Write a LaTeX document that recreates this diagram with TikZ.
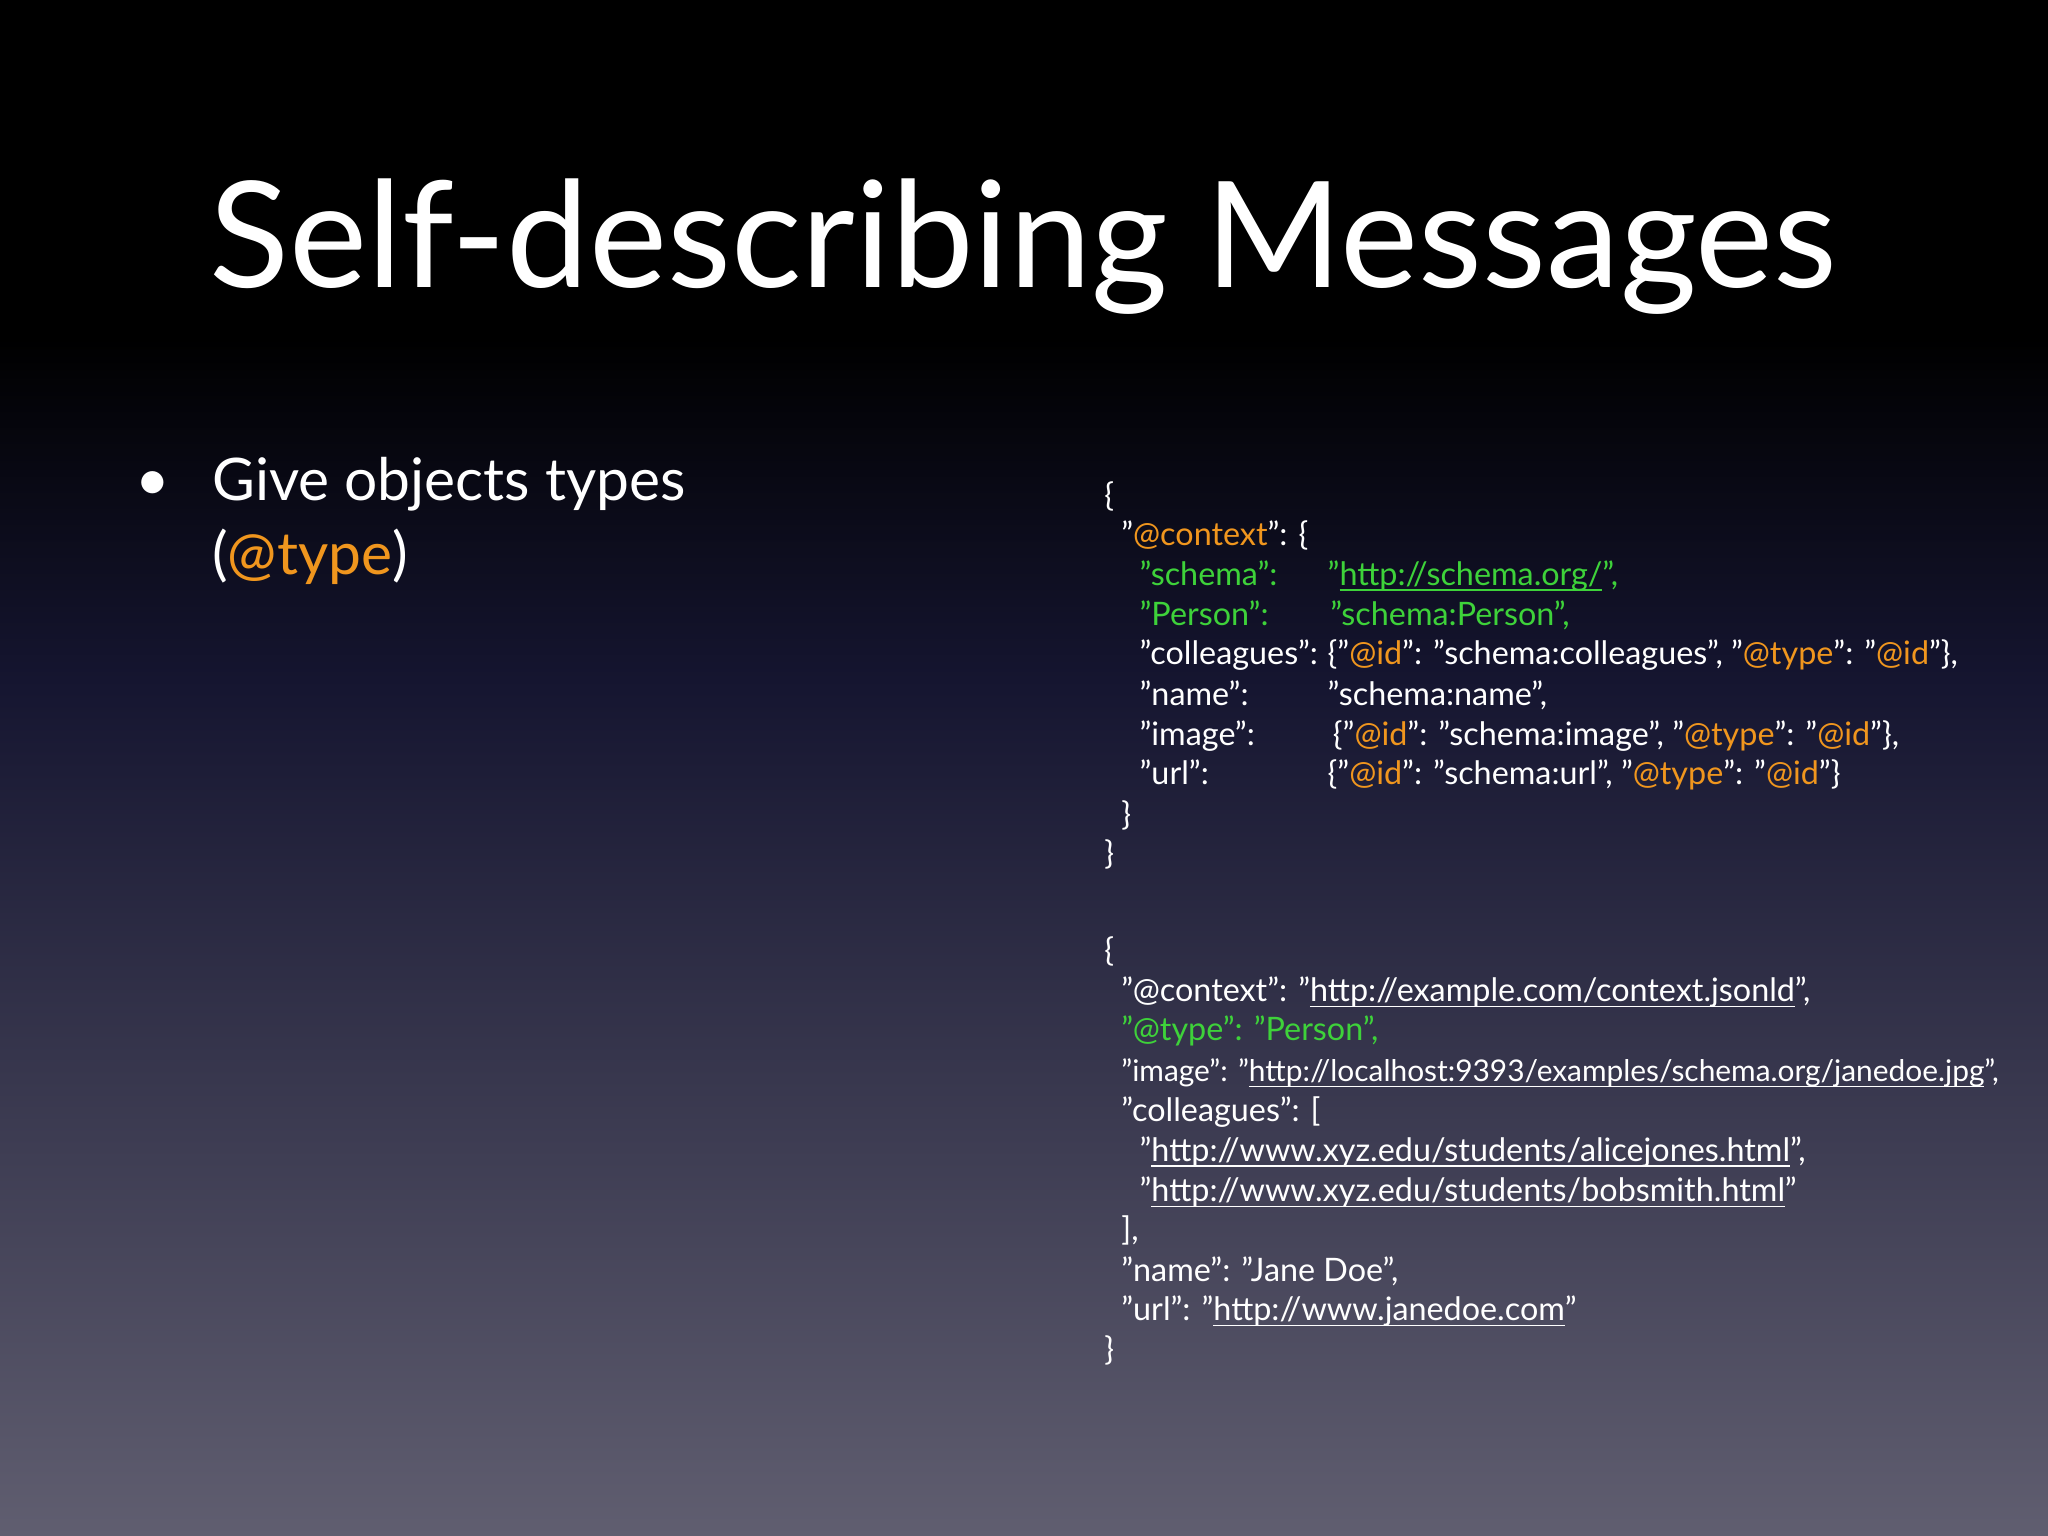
\documentclass[tikz,border=0pt]{standalone}
\usepackage{fontspec}
\setmainfont{Lato}
\usetikzlibrary{shadings}
\definecolor{og}{HTML}{F0961E}
\definecolor{gn}{HTML}{3ED23A}
\definecolor{bgbot}{HTML}{605E70}
\definecolor{bgmid}{HTML}{151530}
\newcommand{\og}[1]{\textcolor{og}{#1}}
\newcommand{\lnk}[1]{\underline{\smash{#1}}}
\newcommand{\q}{\char"22\relax}
\tikzset{code/.style={anchor=base west,text=white,inner sep=0pt,font=\fontsize{9.2}{11}\selectfont}}
\begin{document}
\begin{tikzpicture}[x=0.01306cm,y=-0.01306cm]
\useasboundingbox (0,0) rectangle (1568,1176);
\fill[black] (0,0) rectangle (1568,260);
\shade[top color=black,bottom color=bgmid] (0,259) rectangle (1568,520);
\shade[top color=bgmid,bottom color=bgbot] (0,519) rectangle (1568,1176);
\node[anchor=base west,text=white,inner sep=0pt,font=\fontsize{42}{46}\selectfont] (title) at (160,220) {Self-describing Messages};
\node[anchor=base,text=white,inner sep=0pt,font=\fontsize{17}{20}\selectfont] (bul) at (117,383) {•};
\node[anchor=base west,text=white,inner sep=0pt,font=\fontsize{16.7}{20}\selectfont] (b1) at (162,383) {Give objects types};
\node[anchor=base west,text=white,inner sep=0pt,font=\fontsize{16.7}{20}\selectfont] (b2) at (162,440) {(\og{@type})};
% block 1
\node[code] (a1) at (845,388) {\{};
\node[code] (a2) at (858,418) {\q\og{@context}\q: \{};
\node[code,text=gn] (a3) at (872,448) {\q schema\q:};
\node[code,text=gn] (a3v) at (1016,448) {\q\lnk{http://schema.org/}\q,};
\node[code,text=gn] (a4) at (872,479) {\q Person\q:};
\node[code,text=gn] (a4v) at (1018,479) {\q schema:Person\q,};
\node[code] (a5) at (872,509) {\q colleagues\q:};
\node[code] (a5v) at (1016,509) {\{\q\og{@id}\q: \q schema:colleagues\q, \q\og{@type}\q: \q\og{@id}\q\},};
\node[code] (a6) at (872,540) {\q name\q:};
\node[code] (a6v) at (1016,540) {\q schema:name\q,};
\node[code] (a7) at (872,571) {\q image\q:};
\node[code] (a7v) at (1020,571) {\{\q\og{@id}\q: \q schema:image\q, \q\og{@type}\q: \q\og{@id}\q\},};
\node[code] (a8) at (872,601) {\q url\q:};
\node[code] (a8v) at (1016,601) {\{\q\og{@id}\q: \q schema:url\q, \q\og{@type}\q: \q\og{@id}\q\}};
\node[code] (a9) at (858,632) {\}};
\node[code] (a10) at (845,662) {\}};
% block 2
\node[code] (c1) at (845,736) {\{};
\node[code] (c2) at (858,767) {\q @context\q: \q\lnk{http://example.com/context.jsonld}\q,};
\node[code,text=gn] (c3) at (858,797) {\q @type\q: \q Person\q,};
\node[code,font=\fontsize{8.5}{11}\selectfont] (c4) at (858,828) {\q image\q: \q\lnk{http://localhost:9393/examples/schema.org/janedoe.jpg}\q,};
\node[code] (c5) at (858,859) {\q colleagues\q: [};
\node[code] (c6) at (872,889) {\q\lnk{http://www.xyz.edu/students/alicejones.html}\q,};
\node[code] (c7) at (872,920) {\q\lnk{http://www.xyz.edu/students/bobsmith.html}\q};
\node[code] (c8) at (858,950) {],};
\node[code] (c9) at (858,981) {\q name\q: \q Jane Doe\q,};
\node[code] (c10) at (858,1011) {\q url\q: \q\lnk{http://www.janedoe.com}\q};
\node[code] (c11) at (845,1042) {\}};
\end{tikzpicture}
\end{document}
